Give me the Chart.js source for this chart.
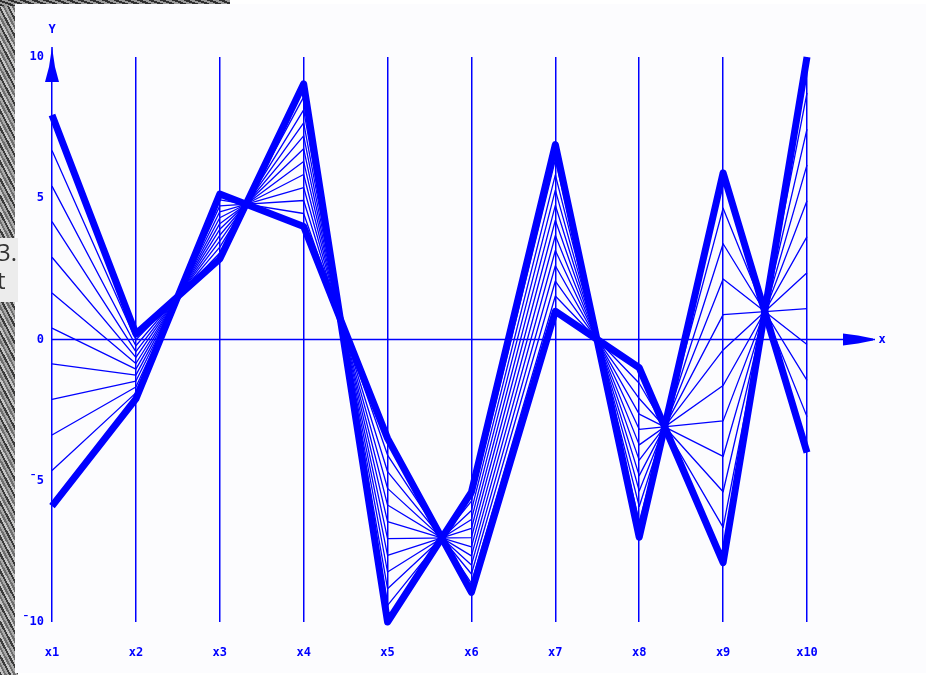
<!DOCTYPE html>
<html>
<head>
<meta charset="utf-8">
<title>Parallel coordinates</title>
<script src="https://cdn.jsdelivr.net/npm/chart.js@4.4.1/dist/chart.umd.min.js"></script>
<style>
    body { margin: 0; background: #fff; }
    #wrap { position: relative; width: 934px; height: 675px; overflow: hidden; }
    #strip {
        position: absolute; left: 0; top: 0; width: 18px; height: 675px;
        background: repeating-linear-gradient(62deg, #3c3c3c 0 2px, #c4c4c4 2px 4px, #6e6e6e 4px 6px, #a8a8a8 6px 8px);
    }
    #topstrip {
        position: absolute; left: 0; top: 0; width: 230px; height: 6px;
        background: repeating-linear-gradient(20deg, #2e2e2e 0 2px, #9a9a9a 2px 4px);
    }
    #note {
        position: absolute; left: -3px; top: 238px; width: 21px; height: 64px; z-index: 2;
        background: #ececec;
        font: 24px "Open Sans", sans-serif; line-height: 28px; color: #333;
    }
    canvas { position: absolute; left: 0; top: 0; }
</style>
</head>
<body>
<div id="wrap">
    <div id="strip"></div>
    <div id="topstrip"></div>
    <canvas id="chart" width="934" height="675"></canvas>
    <div id="note">3.<br>t</div>
</div>
<script>
/* ===== Data ===== */

var axisNames = ['x1', 'x2', 'x3', 'x4', 'x5', 'x6', 'x7', 'x8', 'x9', 'x10'];
var yTicks = [-10, -5, 0, 5, 10];

// the two bold polylines
var lineA = [7.95, 0.2, 2.85, 9.05, -10, -5.4, 6.9, -7, 5.9, -4];
var lineB = [-5.9, -2.1, 5.15, 4, -3.5, -8.95, 1.0, -1, -7.9, 10];

// thin polylines lying between them
var mid1 = [6.69, -0.01, 3.06, 8.59, -9.41, -5.72, 6.36, -6.45, 4.65, -2.73];
var mid2 = [5.43, -0.22, 3.27, 8.13, -8.82, -6.05, 5.83, -5.91, 3.39, -1.45];
var mid3 = [4.17, -0.43, 3.48, 7.67, -8.23, -6.37, 5.29, -5.36, 2.14, -0.18];
var mid4 = [2.91, -0.63, 3.69, 7.21, -7.64, -6.69, 4.75, -4.82, 0.88, 1.09];
var mid5 = [1.65, -0.85, 3.90, 6.75, -7.05, -7.01, 4.22, -4.27, -0.37, 2.36];
var mid6 = [0.40, -1.05, 4.10, 6.30, -6.45, -7.34, 3.68, -3.73, -1.63, 3.64];
var mid7 = [-0.86, -1.26, 4.31, 5.84, -5.86, -7.66, 3.15, -3.18, -2.88, 4.91];
var mid8 = [-2.12, -1.47, 4.52, 5.38, -5.27, -7.98, 2.61, -2.64, -4.14, 6.18];
var mid9 = [-3.38, -1.68, 4.73, 4.92, -4.68, -8.30, 2.07, -2.09, -5.39, 7.45];
var mid10 = [-4.64, -1.89, 4.94, 4.46, -4.09, -8.63, 1.54, -1.55, -6.65, 8.73];

var thinLines = [mid1, mid2, mid3, mid4, mid5, mid6, mid7, mid8, mid9, mid10];

/* ===== Styling ===== */

var blue = '#0000ff';
var tickFont = { family: '"DejaVu Sans Mono", monospace', size: 12, weight: 'bold' };

function toPoints(values) {
    return values.map(function(v, i) { return { x: i + 1, y: v }; });
}

function lineDataset(values, width) {
    return {
        data: toPoints(values),
        borderColor: blue,
        borderWidth: width,
        borderJoinStyle: 'round',
        pointRadius: 0,
        tension: 0,
        fill: false,
        clip: false,
    };
}

var datasets = thinLines.map(function(v) { return lineDataset(v, 1.3); });
datasets.push(lineDataset(lineA, 7));
datasets.push(lineDataset(lineB, 7));

/* ===== Plugins ===== */

var panelPlugin = {
    id: 'panel',
    beforeDraw: function(chart) {
        var ctx = chart.ctx;
        ctx.save();
        ctx.fillStyle = '#fcfcfe';
        ctx.fillRect(15, 4, 911, 669);
        ctx.restore();
    },
};

var axesPlugin = {
    id: 'arrowAxes',
    beforeDatasetsDraw: function(chart) {
        var ctx = chart.ctx;
        var xs = chart.scales.x, ys = chart.scales.y;
        var x0 = xs.getPixelForValue(1);
        var xEnd = xs.getPixelForValue(10);
        var y0 = ys.getPixelForValue(0);
        var yTop = ys.getPixelForValue(10);

        ctx.save();
        ctx.strokeStyle = blue;
        ctx.fillStyle = blue;
        ctx.lineWidth = 1.5;

        // horizontal x axis through 0
        ctx.beginPath();
        ctx.moveTo(x0, y0);
        ctx.lineTo(xEnd + 68, y0);
        ctx.stroke();

        // arrow on x axis
        ctx.beginPath();
        ctx.moveTo(xEnd + 36, y0 - 6);
        ctx.lineTo(xEnd + 51, y0 - 4);
        ctx.lineTo(xEnd + 66, y0 - 1);
        ctx.lineTo(xEnd + 66, y0 + 1);
        ctx.lineTo(xEnd + 51, y0 + 4);
        ctx.lineTo(xEnd + 36, y0 + 6);
        ctx.closePath();
        ctx.fill();

        // y axis continues above 10
        ctx.beginPath();
        ctx.moveTo(x0, yTop);
        ctx.lineTo(x0, yTop - 10);
        ctx.stroke();

        // arrow on y axis
        ctx.beginPath();
        ctx.moveTo(x0, yTop - 10);
        ctx.lineTo(x0 + 3, yTop + 10);
        ctx.lineTo(x0 + 7, yTop + 25);
        ctx.lineTo(x0 - 7, yTop + 25);
        ctx.lineTo(x0 - 3, yTop + 10);
        ctx.closePath();
        ctx.fill();

        ctx.font = 'bold 12px "DejaVu Sans Mono", monospace';
        ctx.textAlign = 'center';
        ctx.textBaseline = 'middle';
        ctx.fillText('Y', x0, yTop - 27);
        ctx.fillText('x', xEnd + 75, y0);
        ctx.restore();
    },
};

/* ===== Chart ===== */

new Chart(document.getElementById('chart'), {
    type: 'line',
    data: { datasets: datasets },
    options: {
        responsive: false,
        animation: false,
        layout: { padding: { top: 57, right: 127, bottom: 0, left: 0 } },
        plugins: {
            legend: { display: false },
            tooltip: { enabled: false },
        },
        scales: {
            x: {
                type: 'linear',
                min: 1,
                max: 10,
                afterFit: function(scale) { scale.height = 53; },
                afterBuildTicks: function(scale) {
                    scale.ticks = axisNames.map(function(n, i) { return { value: i + 1 }; });
                },
                ticks: {
                    color: blue,
                    font: tickFont,
                    padding: 24,
                    autoSkip: false,
                    maxRotation: 0,
                    callback: function(value) { return axisNames[value - 1]; },
                },
                grid: { color: blue, lineWidth: 1.5, drawTicks: false },
                border: { display: false },
            },
            y: {
                type: 'linear',
                min: -10,
                max: 10,
                afterFit: function(scale) { scale.width = 52; },
                afterBuildTicks: function(scale) {
                    scale.ticks = yTicks.map(function(v) { return { value: v }; });
                },
                ticks: {
                    color: blue,
                    font: tickFont,
                    padding: 0,
                    callback: function(value) {
                        return value < 0 ? '\u00af' + Math.abs(value) : String(value);
                    },
                },
                grid: { display: false },
                border: { display: false },
            },
        },
    },
    plugins: [panelPlugin, axesPlugin],
});
</script>
</body>
</html>
